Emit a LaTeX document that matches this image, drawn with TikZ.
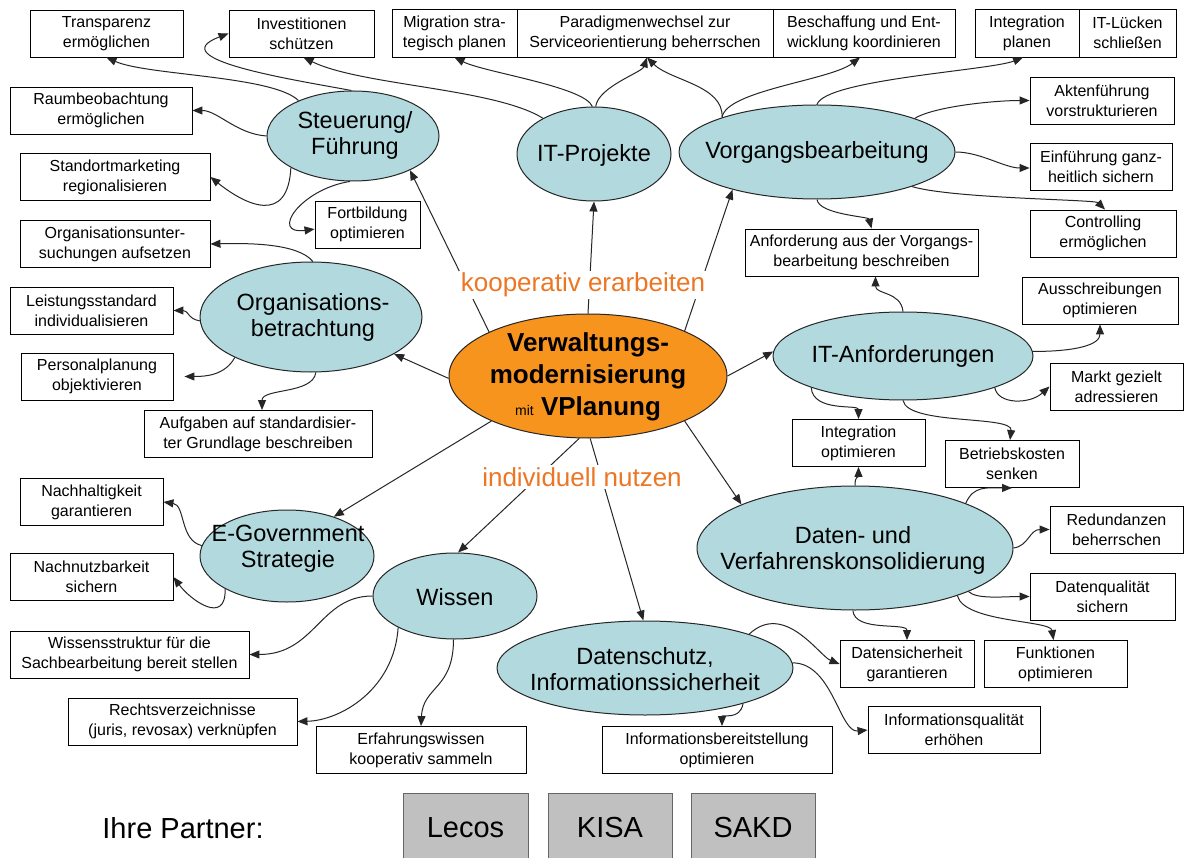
\documentclass[tikz,border=0pt]{standalone}
\usepackage{fontspec}
\setmainfont{Liberation Sans}
\usetikzlibrary{shapes.geometric,arrows.meta,calc}
\definecolor{ellblue}{RGB}{178,218,222}
\definecolor{corange}{RGB}{247,148,30}
\definecolor{torange}{RGB}{236,118,36}
\definecolor{pgray}{RGB}{192,192,192}
\begin{document}
\begin{tikzpicture}[x=1pt,y=-1pt,
  bx/.style={draw=black, line width=0.9pt, fill=white, rectangle, align=center, inner sep=0pt, font=\fontsize{16}{20}\selectfont, minimum height=47},
  ell/.style={draw=black!85, line width=1pt, fill=ellblue, ellipse, inner sep=0pt},
  etxt/.style={align=center, font=\fontsize{23.5}{26}\selectfont, inner sep=0pt},
  con/.style={line width=1pt, draw=black!85, -{Triangle[length=10pt,width=8pt]}},
  lab/.style={text=torange, fill=white, font=\fontsize{26}{26}\selectfont, inner sep=2pt},
  pbox/.style={draw=black!60, line width=0.8pt, fill=pgray, minimum width=124, minimum height=70, font=\fontsize{29}{29}\selectfont, inner sep=0pt}
]
\useasboundingbox (0,0) rectangle (1188,858);
\clip (0,0) rectangle (1188,858);
\fill[white] (0,0) rectangle (1188,858);

% boxes
\node[bx, minimum width=153] (transp) at (106.5,33.5) {Transparenz\\ermöglichen};
\node[bx, minimum width=145] (invest) at (301.5,33.5) {Investitionen\\schützen};
\node[bx, minimum width=125, minimum height=48] (migr) at (454.5,33) {Migration stra-\\tegisch planen};
\node[bx, minimum width=256, minimum height=48] (parad) at (645,33) {Paradigmenwechsel zur\\Serviceorientierung beherrschen};
\node[bx, minimum width=182, minimum height=48] (besch) at (864,33) {Beschaffung und Ent-\\wicklung koordinieren};
\node[bx, minimum width=104, minimum height=48] (intpl) at (1027,33) {Integration\\planen};
\node[bx, minimum width=97, minimum height=48] (itl) at (1127.5,33) {IT-Lücken\\schließen};
\node[bx, minimum width=182] (raum) at (101,110.5) {Raumbeobachtung\\ermöglichen};
\node[bx, minimum width=190] (stand) at (115,177) {Standortmarketing\\regionalisieren};
\node[bx, minimum width=105] (fortb) at (367.5,224.5) {Fortbildung\\optimieren};
\node[bx, minimum width=190] (orgu) at (115,244) {Organisationsunter-\\suchungen aufsetzen};
\node[bx, minimum width=144] (akten) at (1102,100.5) {Aktenführung\\vorstrukturieren};
\node[bx, minimum width=142] (einf) at (1101,166.5) {Einführung ganz-\\heitlich sichern};
\node[bx, minimum width=146] (contr) at (1103,233.5) {Controlling\\ermöglichen};
\node[bx, minimum width=233] (anfv) at (861.5,252.5) {Anforderung aus der Vorgangs-\\bearbeitung beschreiben};
\node[bx, minimum width=156] (aussch) at (1100,300.5) {Ausschreibungen\\optimieren};
\node[bx, minimum width=133] (markt) at (1116.5,386.5) {Markt gezielt\\adressieren};
\node[bx, minimum width=133] (intopt) at (858.5,443) {Integration\\optimieren};
\node[bx, minimum width=134] (betr) at (1012,464) {Betriebskosten\\senken};
\node[bx, minimum width=133] (redund) at (1116.5,529.5) {Redundanzen\\beherrschen};
\node[bx, minimum width=145] (datq) at (1102.5,596.5) {Datenqualität\\sichern};
\node[bx, minimum width=134] (datsich) at (907,664) {Datensicherheit\\garantieren};
\node[bx, minimum width=143] (funkt) at (1055.5,664) {Funktionen\\optimieren};
\node[bx, minimum width=172] (infq) at (954,730) {Informationsqualität\\erhöhen};
\node[bx, minimum width=230] (infb) at (717,750) {Informationsbereitstellung\\optimieren};
\node[bx, minimum width=210] (erfahr) at (421,750) {Erfahrungswissen\\kooperativ sammeln};
\node[bx, minimum width=229] (recht) at (182.5,721.5) {Rechtsverzeichnisse\\(juris, revosax) verknüpfen};
\node[bx, minimum width=239] (wissstr) at (129.5,654.5) {Wissensstruktur für die\\Sachbearbeitung bereit stellen};
\node[bx, minimum width=163] (nachn) at (91.5,577) {Nachnutzbarkeit\\sichern};
\node[bx, minimum width=143] (nachh) at (91.5,502) {Nachhaltigkeit\\garantieren};
\node[bx, minimum width=163] (leist) at (91.5,310.5) {Leistungsstandard\\individualisieren};
\node[bx, minimum width=152] (pers) at (97,376.5) {Personalplanung\\objektivieren};
\node[bx, minimum width=228] (aufg) at (258,434) {Aufgaben auf standardisier-\\ter Grundlage beschreiben};

% ellipses
\node[ell, minimum width=172, minimum height=90] (steu) at (353,136) {};
\node[etxt] (steuT) at (355,135) {Steuerung/\\Führung};
\node[ell, minimum width=154, minimum height=94] (itp) at (594,154) {};
\node[etxt] (itpT) at (594,155) {IT-Projekte};
\node[ell, minimum width=276, minimum height=94] (vorg) at (817,152) {};
\node[etxt] (vorgT) at (817,152) {Vorgangsbearbeitung};
\node[ell, minimum width=222, minimum height=110] (org) at (311,317) {};
\node[etxt] (orgT) at (313,317) {Organisations-\\betrachtung};
\node[ell, minimum width=260, minimum height=88] (itanf) at (903,356) {};
\node[etxt] (itanfT) at (903,356) {IT-Anforderungen};
\node[ell, minimum width=316, minimum height=124] (daten) at (855,548) {};
\node[etxt] (datenT) at (853,550) {Daten- und\\Verfahrenskonsolidierung};
\node[ell, minimum width=174, minimum height=92] (egov) at (287,556) {};
\node[etxt] (egovT) at (288,549) {E-Government\\Strategie};
\node[ell, minimum width=164, minimum height=86] (wissen) at (455,596) {};
\node[etxt] (wissenT) at (455,597) {Wissen};
\node[ell, minimum width=296, minimum height=94] (dschutz) at (645,668) {};
\node[etxt] (dschutzT) at (645,669) {Datenschutz,\\Informationssicherheit};
\node[ell, fill=corange, minimum width=278, minimum height=124] (center) at (588,376) {};
\node[align=center, inner sep=0pt, font=\fontsize{26}{32}\selectfont\bfseries] (centerT) at (588,377) {Verwaltungs-\\modernisierung\\{\fontsize{14}{14}\selectfont\mdseries mit} VPlanung};

% partners
\node[font=\fontsize{29}{29}\selectfont, inner sep=0pt] (partner) at (183,828) {Ihre Partner:};
\node[pbox, minimum width=125] (lecos) at (465.5,828) {Lecos};
\node[pbox] (kisa) at (610,828) {KISA};
\node[pbox] (sakd) at (753,828) {SAKD};

% central arrows
\draw[con] (center.156) -- (steu.329);
\draw[con] (center.90) -- (itp.270);
\draw[con] (center.25) -- (vorg.204);
\draw[con] (center.181) -- (org.336);
\draw[con] (center.0) -- (itanf.178);
\draw[con] (center.205) -- (egov.40);
\draw[con] (center.262) -- (wissen.86);
\draw[con] (center.272) -- (dschutz.92);
\draw[con] (center.335) -- (daten.159);

% Steuerung
\draw[con] (steu.147) .. controls +(-25,-25) and +(40,18) .. (transp.south);
\draw[con] (steu.92) .. controls +(-53,-10) and +(-69,26) .. (invest.west);
\draw[con] (steu.180) .. controls +(-30,-2) and +(25,0) .. (raum.east);
\draw[con] (steu.207) .. controls +(-3,58) and +(35,28) .. (stand.east);
\draw[con] (steu.266) .. controls +(-50,8) and +(-45,6) .. (fortb.185);

% IT-Projekte
\draw[con] (itp.92) .. controls +(-8,-20) and +(30,15) .. (migr.south);
\draw[con] (itp.88) .. controls +(3,-20) and +(-5,15) .. ([xshift=2pt]parad.south);
\draw[con] (itp.145) .. controls +(-48,-30) and +(57,28) .. ([xshift=2pt]invest.south);

% Vorgangsbearbeitung
\draw[con] (vorg.160) .. controls +(2,-32) and +(23,23) .. ([xshift=2pt]parad.south);
\draw[con] (vorg.160) .. controls +(4,-27) and +(-30,23) .. ([xshift=-4pt]besch.south);
\draw[con] (vorg.90) .. controls +(8,-25) and +(-33,13) .. ([xshift=-4pt]intpl.south);
\draw[con] (vorg.19) .. controls +(20,-12) and +(-35,0) .. (akten.west);
\draw[con] (vorg.0) .. controls +(25,0) and +(-25,0) .. ([yshift=-1.5pt]einf.west);
\draw[con] (vorg.340) .. controls +(40,12) and +(-10,-10) .. ([xshift=2pt]contr.north);
\draw[con] (vorg.270) .. controls +(2,15) and +(-3,-12) .. ([xshift=10pt]anfv.north);

% IT-Anforderungen
\draw[con] (itanf.90) .. controls +(-2,-20) and +(0,18) .. ([xshift=14pt]anfv.south);
\draw[con] (itanf.2) .. controls +(45,0) and +(0,20) .. (aussch.south);
\draw[con] (itanf.341) .. controls +(3,17) and +(-20,18) .. (markt.west);
\draw[con] (itanf.199) .. controls +(2,25) and +(0,-15) .. (intopt.north);
\draw[con] (itanf.270) .. controls +(5,25) and +(3,-25) .. ([xshift=-2pt]betr.north);

% Daten
\draw[con] (daten.90) .. controls +(0,-10) and +(0,10) .. (intopt.south);
\draw[con] (daten.22) .. controls +(8,-18) and +(-25,0) .. (betr.south);
\draw[con] (daten.0) .. controls +(15,-2) and +(-20,0) .. (redund.west);
\draw[con] (daten.339) .. controls +(8,8) and +(-25,0) .. (datq.west);
\draw[con] (daten.335) .. controls +(7,27) and +(-3,-20) .. ([xshift=-2pt]funkt.north);
\draw[con] (daten.268) .. controls +(2,22) and +(0,-18) .. (datsich.north);

% Datenschutz
\draw[con] (dschutz.340) .. controls +(-3,17) and +(0,-12) .. ([xshift=5pt]infb.north);
\draw[con] (dschutz.18) .. controls +(35,-33) and +(-20,-8) .. (datsich.west);
\draw[con] (dschutz.2) .. controls +(40,0) and +(-28,3) .. (infq.west);

% Wissen
\draw[con] (wissen.180) .. controls +(-53,0) and +(66,0) .. (wissstr.east);
\draw[con] (wissen.209) .. controls +(-4,62) and +(43,-1) .. (recht.east);
\draw[con] (wissen.268) .. controls +(0,50) and +(2,-40) .. (erfahr.north);

% E-Government
\draw[con] (egov.173) .. controls +(-22,-5) and +(22,3) .. (nachh.east);
\draw[con] (egov.208) .. controls +(1,37) and +(17,23) .. (nachn.east);

% Organisation
\draw[con] (org.88) .. controls +(-15,-18) and +(40,-1) .. (orgu.east);
\draw[con] (org.182) .. controls +(-12,-2) and +(15,0) .. (leist.east);
\draw[con] (org.208) .. controls +(-10,18) and +(21,0) .. ([xshift=11pt]pers.east);
\draw[con] (org.275) .. controls +(-3,22) and +(0,-22) .. ([xshift=4pt]aufg.north);

% orange labels
\node[lab] (koop) at (583,285) {kooperativ erarbeiten};
\node[lab] (indiv) at (582,477) {individuell nutzen};
\end{tikzpicture}
\end{document}
